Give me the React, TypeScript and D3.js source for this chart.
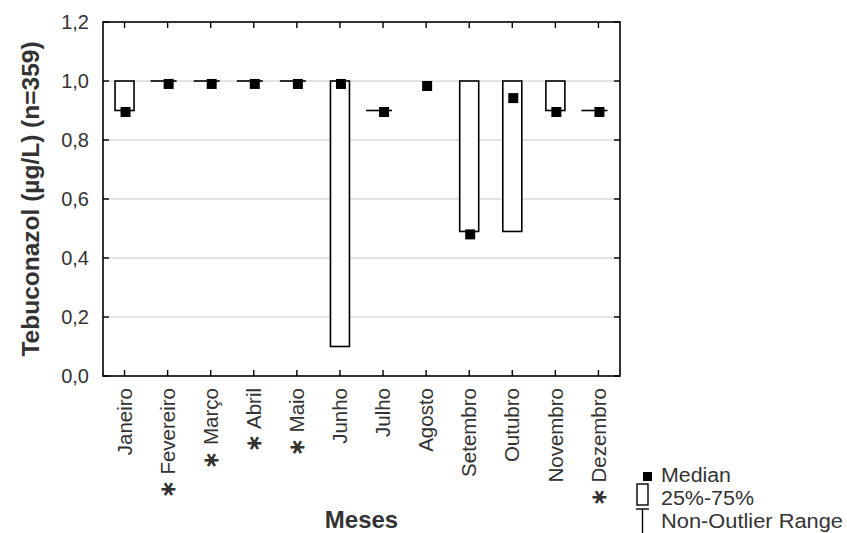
import React from "react";
import * as d3 from "d3";

const months = ["Janeiro", "Fevereiro", "Março", "Abril", "Maio", "Junho", "Julho", "Agosto", "Setembro", "Outubro", "Novembro", "Dezembro"];
const starred = [false, true, true, true, true, false, false, false, false, false, false, true];
const q1: (number | null)[] = [0.9, 1.0, 1.0, 1.0, 1.0, 0.1, 0.9, null, 0.49, 0.49, 0.9, 0.9];
const q3: (number | null)[] = [1.0, 1.0, 1.0, 1.0, 1.0, 1.0, 0.9, null, 1.0, 1.0, 1.0, 0.9];
const medians = [0.895, 0.99, 0.99, 0.99, 0.99, 0.99, 0.895, 0.983, 0.48, 0.942, 0.895, 0.895];
const yTicks = [0, 0.2, 0.4, 0.6, 0.8, 1.0, 1.2];
const yTitle = "Tebuconazol (µg/L) (n=359)";
const xTitle = "Meses";
const legendLabels = ["Median", "25%-75%", "Non-Outlier Range"];

const W = 847, H = 533;
const M = { left: 103, right: 620, top: 22, bottom: 376 };
const FONT = "'Liberation Sans', Arial, sans-serif";

export default function App() {
  const x = d3.scaleBand<string>().domain(months).range([M.left, M.right]);
  const y = d3.scaleLinear().domain([0, 1.2]).range([M.bottom, M.top]);
  const fmt = (v: number) => d3.format(".1f")(v).replace(".", ",");
  const boxW = 19;
  const flatW = 26;
  const sq = 10;

  return (
    <svg width={W} height={H} style={{ position: "absolute", left: 0, top: 0, background: "#fff" }} fontFamily={FONT}>
      <rect x={0} y={0} width={W} height={H} fill="#fff" />
      {yTicks.filter(t => t > 0 && t < 1.2).map(t => (
        <line key={"g" + t} x1={M.left} x2={M.right} y1={y(t)} y2={y(t)} stroke="#c8c8c8" strokeWidth={1} />
      ))}
      {months.map((m, i) => {
        const cx = x(m)! + x.bandwidth() / 2;
        const a = q1[i], b = q3[i];
        const el: React.ReactNode[] = [];
        if (a !== null && b !== null) {
          if (Math.abs(b - a) < 1e-9) {
            el.push(<line key="f" x1={cx - flatW / 2 - 4} x2={cx + flatW / 2 - 4} y1={y(a)} y2={y(a)} stroke="#000" strokeWidth={1.6} />);
          } else {
            el.push(<rect key="b" x={cx - boxW / 2} y={y(b)} width={boxW} height={y(a) - y(b)} fill="#fff" stroke="#000" strokeWidth={1.6} />);
          }
        }
        el.push(<rect key="m" x={cx - sq / 2 + 1} y={y(medians[i]) - sq / 2} width={sq} height={sq} fill="#000" />);
        return <g key={m}>{el}</g>;
      })}
      <rect x={M.left} y={M.top} width={M.right - M.left} height={M.bottom - M.top} fill="none" stroke="#000" strokeWidth={1.6} />
      {yTicks.map(t => (
        <g key={"y" + t}>
          <line x1={M.left} x2={M.left + 6} y1={y(t)} y2={y(t)} stroke="#000" strokeWidth={1.4} />
          <line x1={M.right - 6} x2={M.right} y1={y(t)} y2={y(t)} stroke="#000" strokeWidth={1.4} />
          <text x={M.left - 14} y={y(t)} dy="0.35em" textAnchor="end" fontSize={20} fill="#333">{fmt(t)}</text>
        </g>
      ))}
      {months.map((m, i) => {
        const cx = x(m)! + x.bandwidth() / 2;
        return (
          <g key={"x" + m}>
            <line x1={cx} x2={cx} y1={M.bottom} y2={M.bottom - 6} stroke="#000" strokeWidth={1.4} />
            <line x1={cx} x2={cx} y1={M.top} y2={M.top + 6} stroke="#000" strokeWidth={1.4} />
            <text transform={`translate(${cx},${M.bottom + 12}) rotate(-90)`} textAnchor="end" dy="0.35em" fontSize={20.5} fill="#333">
              {starred[i] ? (<><tspan fontWeight="bold">∗</tspan>{" " + m}</>) : m}
            </text>
          </g>
        );
      })}
      <text transform={`translate(30,${(M.top + M.bottom) / 2}) rotate(-90)`} textAnchor="middle" dy="0.35em" fontSize={24.5} fontWeight="bold" fill="#333">{yTitle}</text>
      <text x={(M.left + M.right) / 2} y={528} textAnchor="middle" fontSize={24} fontWeight="bold" fill="#333">{xTitle}</text>
      <g fill="#333" fontSize={19.5}>
        <rect x={643} y={472} width={9} height={9} fill="#000" />
        <text x={661} y={482} textLength={70} lengthAdjust="spacingAndGlyphs">{legendLabels[0]}</text>
        <rect x={637} y={484} width={11} height={21} fill="#fff" stroke="#000" strokeWidth={1.4} />
        <text x={661} y={505} textLength={93} lengthAdjust="spacingAndGlyphs">{legendLabels[1]}</text>
        <line x1={636} x2={649} y1={509} y2={509} stroke="#000" strokeWidth={1.4} />
        <line x1={642.5} x2={642.5} y1={509} y2={533} stroke="#000" strokeWidth={1.4} />
        <text x={661} y={528} textLength={182} lengthAdjust="spacingAndGlyphs">{legendLabels[2]}</text>
      </g>
    </svg>
  );
}
